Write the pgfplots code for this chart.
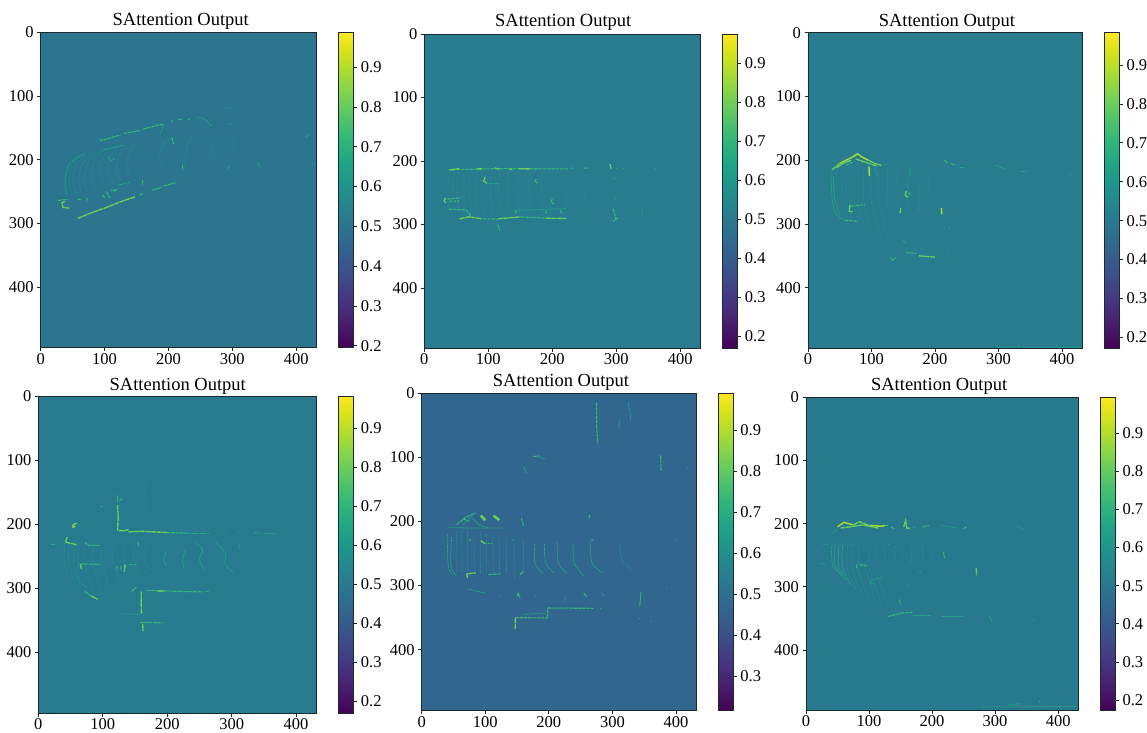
\documentclass[border=0pt]{standalone}
\usepackage{pgfplots}
\pgfplotsset{compat=1.18}
\usepackage{fontspec}
\setmainfont{Liberation Serif}
\definecolor{cY}{HTML}{A5DB36}
\definecolor{cB}{HTML}{6CCD5A}
\definecolor{cM}{HTML}{35B779}
\definecolor{cF}{HTML}{22A884}
\definecolor{cR}{HTML}{21918C}
\definecolor{axc}{HTML}{1C2A30}
\newcommand{\yl}[1]{\addplot[cY,line width=1.5pt,forget plot] coordinates {#1};}
\newcommand{\yb}[1]{\addplot[cB,line width=2.5pt,forget plot] coordinates {#1};}
\newcommand{\br}[1]{\addplot[cB,line width=1.35pt,dash pattern=on 5pt off .6pt,forget plot] coordinates {#1};}
\newcommand{\md}[1]{\addplot[cM,line width=1.1pt,dash pattern=on 3.5pt off .8pt,forget plot] coordinates {#1};}
\newcommand{\ft}[1]{\addplot[cF,line width=.75pt,smooth,dash pattern=on 2pt off .7pt,forget plot] coordinates {#1};}
\newcommand{\rg}[1]{\addplot[cR,line width=.65pt,smooth,dash pattern=on .8pt off .6pt,forget plot] coordinates {#1};}
\newcommand{\bgm}[1]{\addplot[surf,shader=flat,mesh/cols=2,point meta=explicit,forget plot] table[meta=c,row sep=\\] {
x y c\\ 0 0 #1\\ 432 0 #1\\ 0 495 #1\\ 432 495 #1\\
};}
\pgfplotsset{
 panel/.style n args={7}{
  at={(#1pt,#2pt)},anchor=south west,scale only axis,width=#3pt,height=#4pt,
  xmin=0,xmax=432,ymin=0,ymax=495,y dir=reverse,axis on top,
  xtick={0,100,200,300,400},ytick={0,100,200,300,400},
  xticklabel pos=lower,xtick pos=lower,ytick pos=lower,yticklabel pos=lower,
  /pgf/number format/assume math mode=true,
  tick label style={font=\fontsize{16.5}{18}\selectfont},
  xticklabel style={yshift=1.6pt},
  tick style={axc,line width=.7pt},major tick length=3.5pt,tick align=outside,
  axis line style={axc,line width=.9pt},
  title={SAttention Output},
  title style={font=\fontsize{18.5}{20}\selectfont},
  colormap/viridis,point meta min=#5,point meta max=#6,
  colorbar,
  colorbar shift/.style={xshift=21.3pt},
  colorbar style={scale only axis=true,width=15.4pt,height=#4pt,
    ytick={#7},ytick pos=right,yticklabel pos=right,xtick=\empty,
    /pgf/number format/assume math mode=true,
    /pgf/number format/fixed,/pgf/number format/precision=1,/pgf/number format/fixed zerofill,
    yticklabel style={font=\fontsize{16.5}{18}\selectfont,/pgf/number format/fixed,/pgf/number format/precision=1,/pgf/number format/fixed zerofill},
    tick style={axc,line width=.7pt},major tick length=3.5pt,tick align=outside,
    axis line style={axc,line width=.9pt}},
 }
}
\begin{document}
\begin{tikzpicture}
\path[use as bounding box] (0pt,0pt) rectangle (1147pt,732pt);
% ---------- panel 1
\begin{axis}[panel={40.7}{384.3}{276}{315.4}{0.195}{0.988}{0.2,0.3,0.4,0.5,0.6,0.7,0.8,0.9},title style={xshift=2pt,yshift=-6.3pt}]
\bgm{0.505}
\rg{(48,255)(45,230)(50,205)(62,195)}\rg{(55,253)(50,230)(57,205)(72,192)}
\rg{(63,250)(60,228)(66,205)(82,190)}\rg{(72,250)(68,225)(75,203)(90,188)}
\rg{(85,245)(80,225)(85,200)(98,185)}\rg{(98,240)(92,220)(96,200)(108,182)}
\rg{(112,238)(105,218)(108,198)(120,180)}\rg{(125,232)(118,215)(122,195)(132,178)}
\rg{(140,228)(135,212)(138,192)(148,175)}\rg{(190,210)(185,195)(192,175)(205,165)}
\rg{(225,208)(230,175)(240,165)}\rg{(265,195)(270,175)(268,170)}\rg{(300,190)(303,175)(300,165)}
\ft{(41,255)(38,235)(43,210)(55,197)(70,190)}
\md{(92,168)(95,170)(125,161)}\md{(130,159)(155,154)}\md{(160,152)(175,148)(192,144)}
\md{(205,140)(207,139)}\md{(215,137)(222,136)}\md{(230,136)(233,137)}
\ft{(245,133)(258,137)(265,146)(268,146)}
\ft{(270,123)(271,124)}\ft{(280,130)(281,131)}\ft{(290,120)(291,120)}\ft{(296,118)(297,118)}\md{(296,143)(297,144)}
\br{(58,292)(75,285)(105,274)(125,266)(148,258)}\md{(155,255)(160,253)}
\md{(175,248)(190,243)}\md{(193,241)(211,236)}
\br{(38,265)(33,268)(35,275)(45,276)}\md{(27,264)(42,262)}
\md{(58,262)(65,262.5)}\md{(72,260)(73,264)}\md{(97,255)(100,260)}\md{(103,250)(108,260)}
\md{(110,248)(118,247)(115,250)}\md{(160,232)(159,240)}
\ft{(192,145)(187,160)}\md{(205,165)(208,175)}\ft{(105,195)(110,202)(116,198)}\md{(222,208)(222.5,216)}
\ft{(295,210)(292,216)}\ft{(340,205)(344,214)}\ft{(95,185)(130,177)}\ft{(120,240)(140,235)}
\ft{(415,165)(420,160)}\ft{(425,205)(426,207)}
% ---------- panel 2
\end{axis}
\begin{axis}[panel={424.3}{383.7}{276.4}{314.3}{0.169}{0.975}{0.2,0.3,0.4,0.5,0.6,0.7,0.8,0.9},title style={xshift=.7pt,yshift=-6.3pt}]
\bgm{0.50}
\rg{(40,215)(37,240)(38,275)}\rg{(46,215)(44,240)(46,275)}\rg{(54,215)(52,240)(54,275)}
\rg{(62,215)(60,240)(63,275)}\rg{(72,215)(70,245)(73,280)}\rg{(82,215)(80,245)(83,280)}
\rg{(92,215)(90,245)(93,285)}\rg{(105,215)(103,245)(106,285)}\rg{(118,215)(116,245)(119,285)}
\rg{(132,215)(130,245)(133,285)}\rg{(148,215)(146,245)(150,285)}\rg{(165,215)(163,245)(167,285)}
\rg{(185,215)(183,245)(187,285)}\rg{(225,240)(222,265)(228,278)}\rg{(255,240)(250,260)(260,270)}
\md{(37,214)(115,212)}\md{(118,212)(225,212.5)}\br{(40,214)(55,212)}\br{(82,212)(90,212.5)}\br{(110,211)(118,213)}\br{(133,213)(138,213.5)}\br{(148,212)(165,212.5)}
\md{(250,211)(255,211.5)}\md{(230,211)(233,211.5)}\br{(290,205)(292,212)}
\br{(95,225)(93,232)(98,235)}\ft{(100,235)(115,235.5)}\md{(175,228)(173,232)(177,235)}
\br{(33,258)(31,263)(34,266)}\md{(36,260)(58,258)}\md{(40,265)(43,262)}\md{(48,265)(49,262)}\md{(52,265)(54,262)}
\md{(38,276)(65,277)(72,285)(70,288)}\ft{(140,278)(222,275)}\md{(143,278)(143.5,283)}\md{(190,278)(190.5,283)}\md{(213,277)(214,283)}
\br{(55,291)(70,288)(90,291)}\md{(92,291)(115,291.5)}\br{(115,291)(150,288)}\md{(150,288)(190,290)}\br{(190,290)(222,290.5)}
\md{(115,300)(118,310)}\md{(200,260)(198,264)(202,268)}\ft{(240,292)(241,292)}
\md{(295,275)(298,285)(300,292)(295,295)}\md{(298,290)(305,290.5)}\ft{(298,255)(298.5,262)}\ft{(296,225)(298,230)}\ft{(340,275)(340.5,285)}\ft{(320,280)(321,282)}\ft{(330,283)(331,284)}
\ft{(300,212)(301,212)}\ft{(310,212)(311,212)}\ft{(360,212)(361,212)}
% ---------- panel 3
\end{axis}
\begin{axis}[panel={808}{383.7}{274.3}{315.6}{0.172}{0.983}{0.2,0.3,0.4,0.5,0.6,0.7,0.8,0.9},title style={xshift=1.7pt,yshift=-7pt}]
\bgm{0.505}
\ft{(36,215)(38,260)(45,285)(60,295)}\ft{(40,225)(42,260)(50,285)}
\rg{(46,215)(46,260)(55,288)}\rg{(53,215)(53,260)(62,290)}\rg{(60,212)(60,262)(70,292)}
\rg{(68,210)(68,262)(80,295)}\rg{(78,210)(78,265)(90,305)}\rg{(88,210)(88,265)(100,310)}
\rg{(100,212)(100,265)(115,320)}\rg{(112,212)(112,265)(125,322)}\rg{(125,212)(125.5,270)}
\rg{(140,212)(140.5,272)}\rg{(158,212)(158.5,275)}\rg{(175,222)(175.5,280)}\rg{(190,222)(190.5,275)}
\yl{(50,205)(60,200)(70,195)}\br{(38,215)(50,205)}\yl{(70,195)(78,190)(85,195)(95,200)}\br{(95,200)(105,205)(115,208)}\ft{(115,208)(125,207)}
\br{(45,212)(55,205)(68,200)}\br{(75,198)(90,203)(108,209)}\md{(60,208)(70,203)}
\yl{(96,210)(96.6,225)}\br{(155,248)(153,255)(157,258)}\md{(160,250)(161,256)}\br{(146,275)(145,283)}\yl{(210,275)(210.6,285)}
\br{(66,270)(65,280)(70,281)}\md{(68,272)(90,270)}\md{(58,294)(78,296)}
\md{(130,352)(133,358)(138,352)}\md{(155,345)(170,346)}\br{(175,350)(200,352)}\ft{(150,325)(155,332)}
\md{(215,200)(220,205)}\md{(225,205)(232,208)}\ft{(240,212)(245,212)}\ft{(295,208)(305,212)(312,215)}
\ft{(368,220)(370,220)}\ft{(412,222)(414,224)}\ft{(222,305)(223,308)}\ft{(160,210)(162,225)}\ft{(105,212)(110,225)}
\ft{(300,493)(430,493.5)}\md{(330,491)(332,491)}\md{(390,490)(392,490)}\ft{(220,345)(222,345)}\ft{(230,360)(232,360)}
\ft{(260,210)(262,210)}\ft{(335,218)(345,218)}
% ---------- panel 4
\end{axis}
\begin{axis}[panel={38.3}{18.7}{278.4}{317.3}{0.168}{0.983}{0.2,0.3,0.4,0.5,0.6,0.7,0.8,0.9},title style={xshift=.2pt,yshift=-8.3pt}]
\bgm{0.505}
\rg{(42,225)(40,255)(45,280)}\rg{(48,230)(47,258)(55,290)}\rg{(55,232)(55,262)(65,295)}\rg{(62,232)(62,280)(75,300)}
\rg{(72,235)(73,270)(85,300)}\rg{(85,235)(85,265)(100,310)}\rg{(100,235)(98,260)(112,300)}\rg{(118,235)(115,255)(125,285)}
\rg{(135,235)(132,255)(140,280)}\rg{(150,235)(148,255)(155,275)}\rg{(167,235)(165,255)(172,270)}
\rg{(167,133)(165,150)(167,170)(163,190)}
\ft{(198,242)(195,255)(198,265)}\ft{(228,240)(224,255)(226,268)}\ft{(245,230)(255,240)(250,255)(258,272)}\ft{(275,228)(290,245)(290,262)(302,275)}\ft{(313,230)(312,238)}
\md{(123,155)(123.5,165)}\br{(123,170)(124,190)(123,210)}\br{(125,210)(135,210)(140,208)}
\br{(140,212)(160,211)(200,213)}\md{(200,213)(230,214)}\ft{(230,214)(265,214)}
\ft{(290,214)(292,214)}\ft{(310,213)(312,213)}\ft{(335,213)(345,214)}\ft{(350,214)(370,215)}
\br{(52,202)(60,198)}\yl{(53,205)(57,203)}\br{(45,220)(42,228)(60,232)}\md{(72,228)(78,233)(95,233)}
\br{(65,262)(67,270)}\md{(66,262)(95,262.5)}\md{(122,265)(122.5,272)}\md{(128,265)(128.5,272)}\br{(135,263)(133,274)}\ft{(140,262)(155,262)}\md{(155,228)(155.5,235)}
\md{(72,305)(82,312)}\br{(82,312)(92,317)}\md{(145,305)(152,298)}\br{(160,305)(159.5,322)(160,340)}\ft{(128,340)(158,340.5)}
\md{(168,303)(220,305)}\br{(185,304)(195,304.5)}\md{(220,305)(255,305.5)}\ft{(258,305)(265,305)}
\md{(158,353)(195,354)}\br{(162,355)(162.5,367)}\ft{(20,232)(25,232)}\ft{(105,288)(106,289)}\ft{(122,290)(123,291)}
\ft{(165,275)(166,276)}\md{(127,163)(130,160)}\ft{(95,172)(100,172)}
% ---------- panel 5
\end{axis}
\begin{axis}[panel={421.7}{21.3}{274.6}{317.7}{0.217}{0.99}{0.3,0.4,0.5,0.6,0.7,0.8,0.9},title style={xshift=2pt,yshift=-7pt}]
\bgm{0.47}
\ft{(40,220)(42,270)(50,285)}\ft{(47,225)(46,270)(55,285)}\rg{(55,215)(55.5,280)}\rg{(63,215)(63.5,280)}\rg{(72,215)(72.5,280)}\rg{(82,215)(82.5,282)}
\rg{(92,215)(92.5,282)}\rg{(102,220)(102.5,282)}\rg{(112,220)(112.5,282)}\rg{(122,225)(122.5,282)}\rg{(133,225)(133.5,282)}\rg{(145,225)(145.5,285)}\rg{(160,228)(160.5,285)}
\ft{(178,235)(178,265)(190,280)}\ft{(193,235)(195,265)(208,280)}\ft{(213,232)(215,265)(228,280)}\ft{(238,235)(240,265)(255,285)}\ft{(265,230)(268,265)(285,280)}\rg{(312,235)(315,260)(330,275)}
\ft{(42,210)(130,210.5)}\md{(55,205)(70,193)(85,187)}\ft{(65,205)(80,190)}\md{(65,196)(75,200)}\ft{(80,195)(90,205)(105,210)}
\yb{(93,191)(100,198)}\yb{(113,191)(122,198)}
\md{(157,195)(160,207)}\md{(264,190)(263,197)}\md{(275,15)(275.5,50)}\md{(275,50)(277,78)}
\ft{(325,15)(327,28)}\ft{(312,40)(310,55)}\ft{(328,30)(328.5,42)}\md{(175,99)(185,98)}\ft{(185,100)(195,103)}\ft{(160,115)(165,125)}
\md{(376,97)(376.5,121)}\ft{(418,115)(418,117)}
\br{(72,288)(71,282)(85,280)}\md{(105,283)(125,282)}\md{(155,283)(160,277)}\ft{(145,288)(146,288)}
\md{(150,317)(152,312)(155,320)}\ft{(226,315)(225,325)}\md{(255,312)(260,318)}\ft{(283,312)(287,316)}
\md{(345,310)(343,332)}\ft{(343,350)(343,352)}\ft{(360,355)(361,357)}
\br{(147,367)(147.5,350)}\md{(147,350)(198,350.5)}\md{(198,350)(198.5,335)}\md{(198,335)(270,335.5)}\ft{(280,335)(282,335)}\ft{(160,345)(195,343)}
\md{(75,228)(77,230)}\br{(93,230)(100,235)}\ft{(100,235)(112,235)}\ft{(143,228)(145,230)}\md{(267,228)(269,230)}\ft{(400,228)(401,230)}
\ft{(122,317)(123,317)}\ft{(178,317)(179,317)}\ft{(72,305)(100,312)}\ft{(385,305)(386,305)}
% ---------- panel 6
\end{axis}
\begin{axis}[panel={806}{22}{272.3}{312.7}{0.174}{0.994}{0.2,0.3,0.4,0.5,0.6,0.7,0.8,0.9},title style={xshift=-3pt,yshift=-6.3pt}]
\bgm{0.505}
\ft{(40,235)(42,265)(50,275)}\ft{(46,235)(46,265)(56,282)}\ft{(52,235)(52,268)(64,290)}\ft{(58,235)(58,270)(72,298)}
\rg{(66,235)(66,272)(80,305)}\rg{(74,235)(74,275)(90,312)}\rg{(84,235)(84,278)(100,320)}\rg{(92,262)(110,325)}\rg{(100,270)(120,330)}\rg{(112,280)(130,330)}
\rg{(100,235)(100.5,258)}\rg{(112,235)(112.5,258)}\rg{(125,235)(125.5,260)}\rg{(140,235)(140.5,260)}\rg{(152,235)(152.5,260)}\rg{(167,235)(167.5,262)}\rg{(185,235)(185.5,265)}\rg{(200,240)(202,265)}
\rg{(25,233)(80,233.5)}\ft{(23,263)(30,264)}
\yl{(50,205)(60,198)(75,202)}\br{(75,202)(85,197)(100,203)}\yl{(100,203)(120,204)(125,203)}\md{(125,203)(130,203)}\md{(135,205)(140,208)}
\br{(55,207)(70,205)(90,202)(115,207)}
\br{(155,205)(158,195)(160,207)(165,207)}\md{(185,205)(195,203)}\ft{(215,203)(240,207)}\md{(250,208)(255,205)}\ft{(335,204)(345,210)}
\ft{(42,215)(50,208)}\ft{(170,205)(175,207)}
\md{(80,265)(80.5,272)}\md{(85,265)(98,267)}\ft{(105,288)(102,295)(108,295)}\ft{(110,288)(120,285)}\ft{(160,295)(162,300)}
\br{(270,270)(270.6,282)}\md{(218,245)(220,255)}\md{(148,320)(150,328)}\ft{(115,340)(116,341)}\ft{(130,232)(132,234)}
\md{(130,347)(150,342)(170,340)}\ft{(170,345)(180,345)(200,345)}\ft{(215,347)(250,347)}\ft{(290,345)(295,355)}\ft{(360,350)(362,354)}\ft{(180,275)(182,278)}
\ft{(280,489)(430,489.5)}\md{(370,482)(372,482)}\ft{(320,487)(340,485)}
\end{axis}
\end{tikzpicture}
\end{document}
